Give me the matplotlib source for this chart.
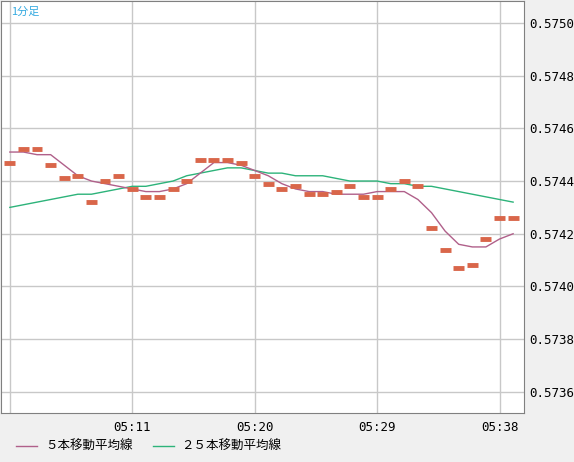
import matplotlib
matplotlib.use("Agg")
import matplotlib.pyplot as plt
from matplotlib.lines import Line2D
import numpy as np

plt.rcParams["font.family"] = ["Noto Sans CJK JP", "DejaVu Sans"]

# 1分足 05:02 .. 05:39
minutes = list(range(2, 40))
prices = [0.57447, 0.57452, 0.57452, 0.57446, 0.57441, 0.57442, 0.57432, 0.57440,
          0.57442, 0.57437, 0.57434, 0.57434, 0.57437, 0.57440, 0.57448, 0.57448,
          0.57448, 0.57447, 0.57442, 0.57439, 0.57437, 0.57438, 0.57435, 0.57435,
          0.57436, 0.57438, 0.57434, 0.57434, 0.57437, 0.57440, 0.57438, 0.57422,
          0.57414, 0.57407, 0.57408, 0.57418, 0.57426, 0.57426]
ma5 = [0.57451, 0.57451, 0.57450, 0.57450, 0.57446, 0.57442, 0.57440, 0.57439,
       0.57438, 0.57437, 0.57436, 0.57436, 0.57437, 0.57439, 0.57443, 0.57447,
       0.57447, 0.57446, 0.57444, 0.57442, 0.57439, 0.57437, 0.57436, 0.57436,
       0.57435, 0.57435, 0.57435, 0.57436, 0.57436, 0.57436, 0.57433, 0.57428,
       0.57421, 0.57416, 0.57415, 0.57415, 0.57418, 0.57420]
ma25 = [0.57430, 0.57431, 0.57432, 0.57433, 0.57434, 0.57435, 0.57435, 0.57436,
        0.57437, 0.57438, 0.57438, 0.57439, 0.57440, 0.57442, 0.57443, 0.57444,
        0.57445, 0.57445, 0.57444, 0.57443, 0.57443, 0.57442, 0.57442, 0.57442,
        0.57441, 0.57440, 0.57440, 0.57440, 0.57439, 0.57439, 0.57438, 0.57438,
        0.57437, 0.57436, 0.57435, 0.57434, 0.57433, 0.57432]
xtick_min = [11, 20, 29, 38]
xtick_labels = ["05:11", "05:20", "05:29", "05:38"]
yticks = [0.5736, 0.5738, 0.5740, 0.5742, 0.5744, 0.5746, 0.5748, 0.5750]

MA5_COLOR = "#b0608a"
MA25_COLOR = "#2db37a"

W, H = 574, 462
fig = plt.figure(figsize=(W / 100, H / 100), dpi=100, facecolor="#f0f0f0")
ax = fig.add_axes([1 / W, (H - 413) / H, 523 / W, 412 / H], facecolor="white")

x = np.array(minutes)
ax.hlines(prices, x - 0.4, x + 0.4, color="#d9664a", linewidth=3.5, zorder=3)
ax.plot(x, ma25, color=MA25_COLOR, linewidth=1, zorder=2)
ax.plot(x, ma5, color=MA5_COLOR, linewidth=1, zorder=2)

ax.set_xlim(1.35, 39.8)
ax.set_ylim(0.57352, 0.575083)
for m in [2] + xtick_min:
    ax.axvline(m, color="#c8c8c8", linewidth=1, zorder=0)
for y in yticks:
    ax.axhline(y, color="#c8c8c8", linewidth=1, zorder=0)

ax.set_xticks(xtick_min)
ax.set_xticklabels(xtick_labels, family="DejaVu Sans Mono", fontsize=9)
ax.set_yticks(yticks)
ax.set_yticklabels([f"{v:.4f}" for v in yticks], family="DejaVu Sans Mono", fontsize=9)
ax.yaxis.tick_right()
ax.tick_params(length=0, pad=4)
ax.tick_params(axis="x", pad=6)
for s in ax.spines.values():
    s.set_color("#808080")

ax.text(0.02, 0.985, "1分足", transform=ax.transAxes, color="#33a9e0",
        fontsize=8, va="top", ha="left")

ly = 1 - 446 / H
fig.add_artist(Line2D([16 / W, 37 / W], [ly, ly], color=MA5_COLOR, linewidth=1))
fig.text(45 / W, ly, "５本移動平均線", fontsize=9, va="center")
fig.add_artist(Line2D([153 / W, 174 / W], [ly, ly], color=MA25_COLOR, linewidth=1))
fig.text(181 / W, ly, "２５本移動平均線", fontsize=9, va="center")

fig.savefig("out.png", dpi=100, facecolor=fig.get_facecolor())
